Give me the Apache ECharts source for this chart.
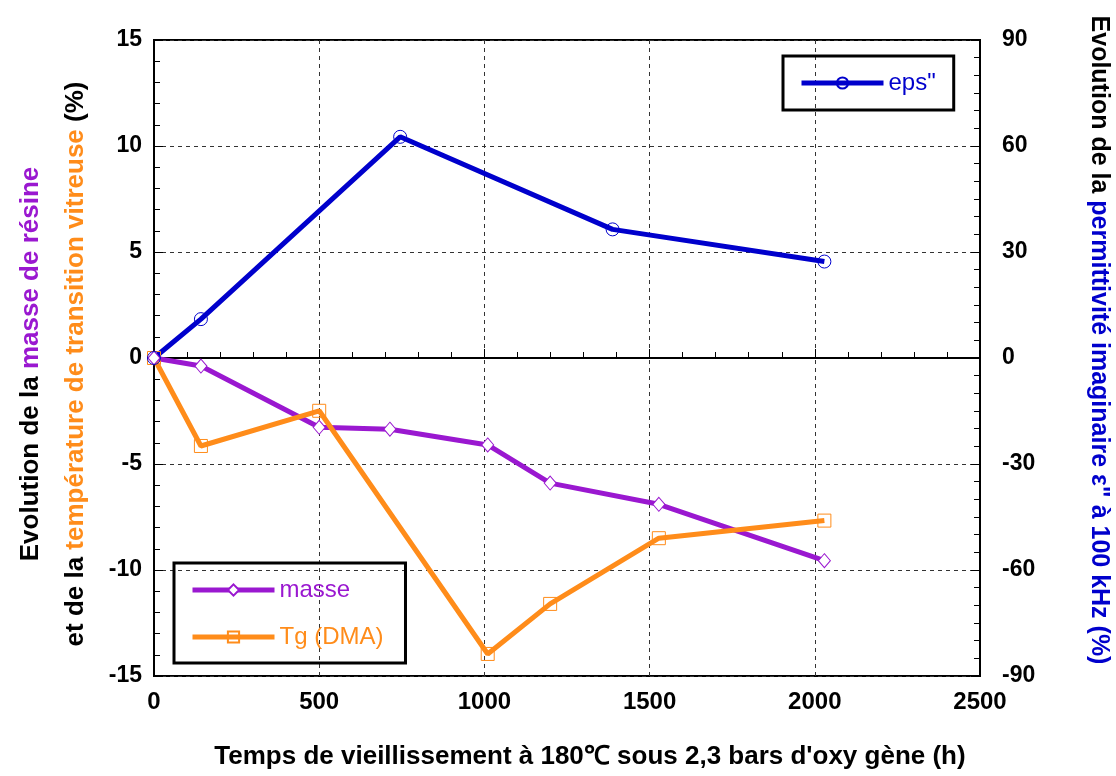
<!DOCTYPE html>
<html>
<head>
  <meta charset="utf-8">
  <title>Vieillissement</title>
  <script src="https://cdn.jsdelivr.net/npm/echarts@6.0.0/dist/echarts.min.js"></script>
  <style>
    html, body { margin: 0; padding: 0; background: #fff; }
  </style>
</head>
<body>
  <div id="main" style="width: 1116px; height: 776px;"></div>

  <script>
    // données
    var epsTemps = [0, 142, 745, 1388, 2029];
    var epsValeurs = [0, 11, 62.6, 36.4, 27.3];

    var masseTemps = [0, 142, 500, 714, 1010, 1199, 1528, 2029];
    var masseValeurs = [0, -0.38, -3.27, -3.36, -4.1, -5.9, -6.9, -9.56];

    var tgTemps = [0, 142, 500, 1010, 1199, 1528, 2029];
    var tgValeurs = [0, -4.15, -2.49, -13.96, -11.6, -8.5, -7.67];

    function paires(xs, ys) {
      var out = [];
      for (var i = 0; i < xs.length; i++) out.push([xs[i], ys[i]]);
      return out;
    }

    var bleu = '#0000cc';
    var violet = '#9a18d0';
    var orange = '#ff8c1a';
    var arial = '"Liberation Sans", Arial, sans-serif';

    var chart = echarts.init(document.getElementById('main'));

    var option = {
      animation: false,
      grid: {
        left: 154, right: 136, top: 40, bottom: 100,
        show: true, borderColor: '#000', borderWidth: 2,
        containLabel: false,
        outerBoundsMode: 'none'
      },
      legend: [
        {
          left: 783, top: 56,
          padding: [15, 18, 15, 16],
          borderColor: '#000', borderWidth: 3,
          itemWidth: 82, itemHeight: 14,
          lineStyle: { width: 5 },
          textStyle: { fontFamily: arial, fontSize: 24 },
          data: [{ name: 'eps"', textStyle: { color: bleu } }]
        },
        {
          left: 174, top: 563,
          orient: 'vertical',
          padding: [15, 22, 14, 16],
          itemGap: 23,
          borderColor: '#000', borderWidth: 3,
          itemWidth: 82, itemHeight: 14,
          lineStyle: { width: 5 },
          textStyle: { fontFamily: arial, fontSize: 24 },
          data: [
            { name: 'masse', textStyle: { color: violet } },
            { name: 'Tg (DMA)', textStyle: { color: orange } }
          ]
        }
      ],
      xAxis: {
        type: 'value',
        min: 0, max: 2500, interval: 500,
        name: 'Temps de vieillissement à 180℃ sous 2,3 bars d\'oxy gène (h)',
        nameLocation: 'middle',
        nameGap: 68,
        nameTextStyle: {
          fontFamily: arial, fontWeight: 'bold', fontSize: 26, color: '#000',
          padding: [0, 0, 0, 46]
        },
        axisLine: { lineStyle: { color: '#000', width: 2 } },
        axisTick: { inside: true, length: 9, lineStyle: { color: '#000', width: 1 } },
        minorTick: { show: true, splitNumber: 5, length: 6, lineStyle: { color: '#000', width: 1 } },
        axisLabel: {
          fontFamily: arial, fontWeight: 'bold', fontSize: 24, color: '#000', margin: 14,
          formatter: function (v) { return String(v); }
        },
        splitLine: { show: true, lineStyle: { color: '#333', type: [4, 4], width: 1 } }
      },
      yAxis: [
        {
          type: 'value',
          min: -15, max: 15, interval: 5,
          position: 'left',
          name: '{k|Evolution de la }{p|masse de résine}\n{k|et de la }{o|température de transition vitreuse}{k| (%)}',
          nameLocation: 'middle',
          nameRotate: 90,
          nameGap: 54,
          nameTextStyle: {
            fontFamily: arial, fontWeight: 'bold', fontSize: 26, lineHeight: 45,
            padding: [0, 12, 0, 0],
            rich: {
              k: { color: '#000', fontFamily: arial, fontWeight: 'bold', fontSize: 26, lineHeight: 45 },
              p: { color: violet, fontFamily: arial, fontWeight: 'bold', fontSize: 26, lineHeight: 45 },
              o: { color: orange, fontFamily: arial, fontWeight: 'bold', fontSize: 26, lineHeight: 45 }
            }
          },
          axisLine: { show: true, lineStyle: { color: '#000', width: 2 } },
          axisTick: { show: true, inside: true, length: 9, lineStyle: { color: '#000', width: 1 } },
          minorTick: { show: true, splitNumber: 5, length: 6, lineStyle: { color: '#000', width: 1 } },
          axisLabel: {
            fontFamily: arial, fontWeight: 'bold', fontSize: 23, color: '#000', margin: 12
          },
          splitLine: { show: true, lineStyle: { color: '#333', type: [4, 4], width: 1 } }
        },
        {
          type: 'value',
          min: -90, max: 90, interval: 30,
          position: 'right',
          name: '{k|Evolution de la }{b|permittivité imaginaire ε" à 100 kHz (%)}',
          nameLocation: 'middle',
          nameRotate: -90,
          nameGap: 106,
          nameTextStyle: {
            fontFamily: arial, fontWeight: 'bold', fontSize: 25,
            padding: [0, 36, 0, 0],
            rich: {
              k: { color: '#000', fontFamily: arial, fontWeight: 'bold', fontSize: 25 },
              b: { color: bleu, fontFamily: arial, fontWeight: 'bold', fontSize: 25 }
            }
          },
          axisLine: { show: true, lineStyle: { color: '#000', width: 2 } },
          axisTick: { show: true, inside: true, length: 9, lineStyle: { color: '#000', width: 1 } },
          minorTick: { show: true, splitNumber: 6, length: 6, lineStyle: { color: '#000', width: 1 } },
          axisLabel: {
            fontFamily: arial, fontWeight: 'bold', fontSize: 23, color: '#000', margin: 22
          },
          splitLine: { show: false }
        }
      ],
      series: [
        {
          name: 'masse',
          type: 'line',
          yAxisIndex: 0,
          data: paires(masseTemps, masseValeurs),
          symbol: 'diamond', symbolSize: [12, 14],
          lineStyle: { color: violet, width: 5 },
          itemStyle: { color: '#fff', borderColor: violet, borderWidth: 1 }
        },
        {
          name: 'Tg (DMA)',
          type: 'line',
          yAxisIndex: 0,
          data: paires(tgTemps, tgValeurs),
          symbol: 'rect', symbolSize: 13,
          lineStyle: { color: orange, width: 5 },
          itemStyle: { color: 'rgba(255,255,255,0)', borderColor: orange, borderWidth: 1 }
        },
        {
          name: 'eps"',
          type: 'line',
          yAxisIndex: 1,
          data: paires(epsTemps, epsValeurs),
          symbol: 'circle', symbolSize: 13,
          lineStyle: { color: bleu, width: 5 },
          itemStyle: { color: 'rgba(255,255,255,0)', borderColor: bleu, borderWidth: 1 }
        }
      ]
    };

    chart.setOption(option);
  </script>
</body>
</html>
